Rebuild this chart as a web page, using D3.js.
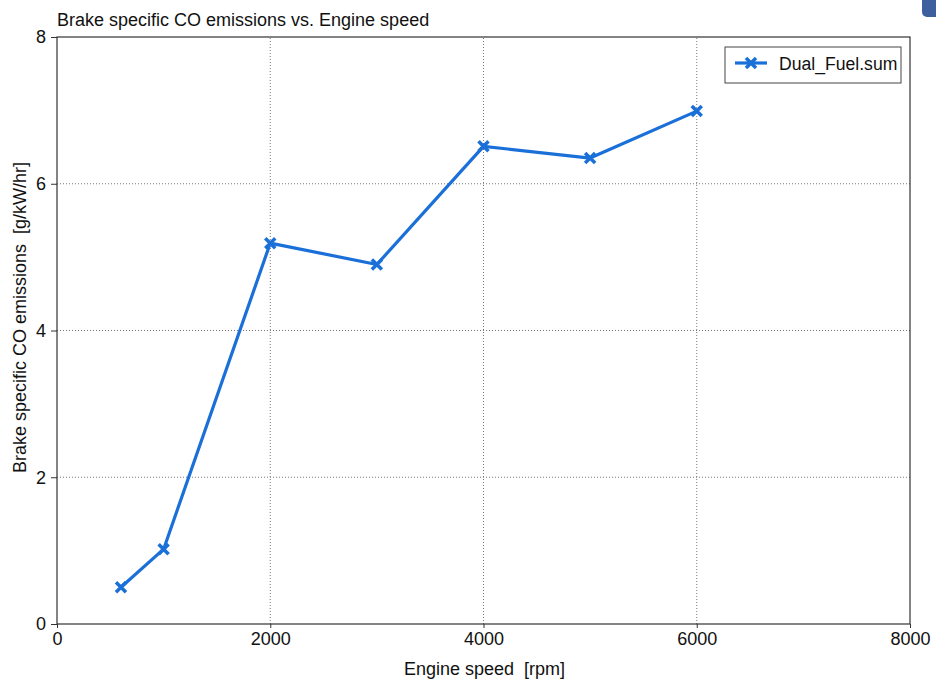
<!DOCTYPE html>
<html><head><meta charset="utf-8">
<script src="https://cdn.jsdelivr.net/npm/d3@7"></script>
<style>body{margin:0;background:#fff;} svg{display:block;font-family:"Liberation Sans",Arial,sans-serif;} text{white-space:pre;}</style>
</head><body>
<script>
const speeds = [600, 1000, 2000, 3000, 4000, 5000, 6000];
const coValues = [0.50, 1.02, 5.19, 4.90, 6.51, 6.35, 6.99];
const seriesName = "Dual_Fuel.sum";
const xTicks = [0, 2000, 4000, 6000, 8000];
const yTicks = [0, 2, 4, 6, 8];
const title = "Brake specific CO emissions vs. Engine speed";
const xLabel = "Engine speed  [rpm]";
const yLabel = "Brake specific CO emissions  [g/kW/hr]";

const W = 936, H = 681;
const m = {left: 57, right: 26, top: 37, bottom: 57};
const svg = d3.select("body").append("svg").attr("width", W).attr("height", H);
const x = d3.scaleLinear().domain([0, 8000]).range([m.left, W - m.right]);
const y = d3.scaleLinear().domain([0, 8]).range([H - m.bottom, m.top]);
const color = "#1a70d8";

// decoration top right
svg.append("rect").attr("x", 922).attr("y", -8).attr("width", 24).attr("height", 25).attr("rx", 5).attr("fill", "#3d5f9e");

// grid
svg.append("g").selectAll("line").data(xTicks.slice(1, -1)).join("line")
  .attr("x1", d => x(d)).attr("x2", d => x(d)).attr("y1", y(0)).attr("y2", y(8))
  .attr("stroke", "#777").attr("stroke-width", 1).attr("stroke-dasharray", "1,2");
svg.append("g").selectAll("line").data(yTicks.slice(1, -1)).join("line")
  .attr("y1", d => y(d)).attr("y2", d => y(d)).attr("x1", x(0)).attr("x2", x(8000))
  .attr("stroke", "#777").attr("stroke-width", 1).attr("stroke-dasharray", "1,2");

// frame
svg.append("rect").attr("x", x(0)).attr("y", y(8)).attr("width", x(8000) - x(0)).attr("height", y(0) - y(8))
  .attr("fill", "none").attr("stroke", "#333").attr("stroke-width", 1.2);

// axes
const xAxis = svg.append("g").attr("transform", `translate(0,${y(0)})`)
  .call(d3.axisBottom(x).tickValues(xTicks).tickSize(4).tickPadding(4).tickFormat(d3.format("d")));
const yAxis = svg.append("g").attr("transform", `translate(${x(0)},0)`)
  .call(d3.axisLeft(y).tickValues(yTicks).tickSize(6).tickPadding(5).tickFormat(d3.format("d")));
[xAxis, yAxis].forEach(a => {
  a.select(".domain").remove();
  a.selectAll("line").attr("stroke", "#333");
  a.selectAll("text").attr("fill", "#111").style("font-size", "18px").style("font-family", '"Liberation Sans",Arial,sans-serif');
});

// title & labels
svg.append("text").attr("x", 57).attr("y", 26).text(title).style("font-size", "18px").attr("fill", "#111");
svg.append("text").attr("x", (x(0) + x(8000)) / 2 + 1).attr("y", 675).attr("text-anchor", "middle")
  .text(xLabel).style("font-size", "18px").attr("fill", "#111");
svg.append("text").attr("transform", `translate(26,${(y(0) + y(8)) / 2 - 13}) rotate(-90)`).attr("text-anchor", "middle")
  .text(yLabel).style("font-size", "18px").attr("fill", "#111");

// line
const data = speeds.map((s, i) => ({s, v: coValues[i]}));
svg.append("path").datum(data)
  .attr("d", d3.line().x(d => x(d.s)).y(d => y(d.v)))
  .attr("fill", "none").attr("stroke", color).attr("stroke-width", 3.2).attr("stroke-linejoin", "round");
const ms = 5;
const cross = (g, cx, cy) => {
  g.append("path").attr("d", `M${cx - ms},${cy - ms}L${cx + ms},${cy + ms}M${cx - ms},${cy + ms}L${cx + ms},${cy - ms}`)
    .attr("stroke", color).attr("stroke-width", 3.5).attr("fill", "none");
};
const mg = svg.append("g");
data.forEach(d => cross(mg, x(d.s), y(d.v)));

// legend
const lg = svg.append("g");
lg.append("rect").attr("x", 725).attr("y", 47).attr("width", 176).attr("height", 36)
  .attr("fill", "#fff").attr("stroke", "#444").attr("stroke-width", 1);
lg.append("line").attr("x1", 735).attr("x2", 767).attr("y1", 63).attr("y2", 63).attr("stroke", color).attr("stroke-width", 3.2);
cross(lg, 751, 63);
lg.append("text").attr("x", 779).attr("y", 70).text(seriesName).style("font-size", "17.6px").attr("fill", "#111");
</script>
</body></html>
